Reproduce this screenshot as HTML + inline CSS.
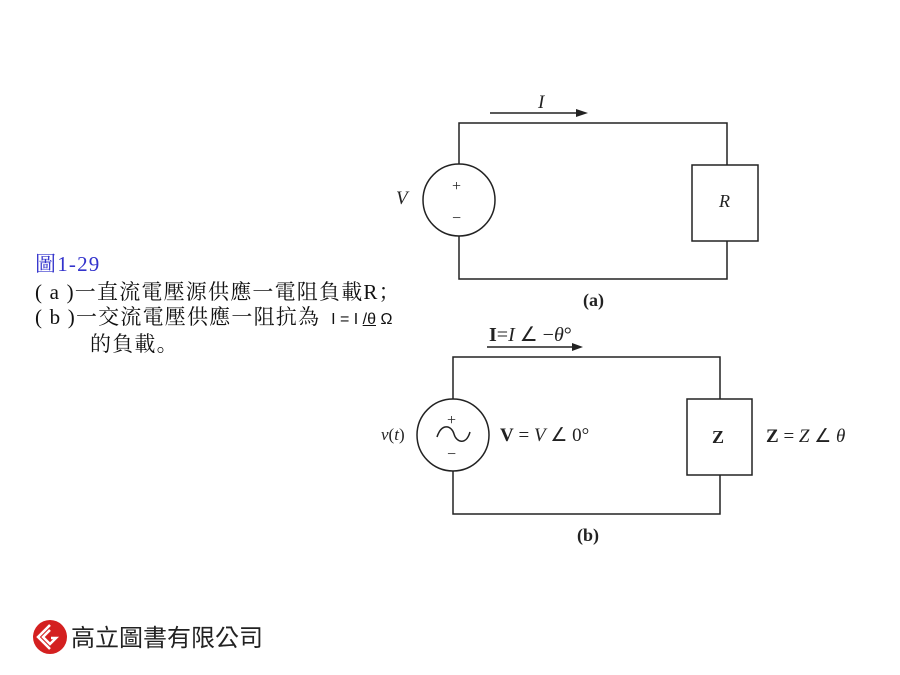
<!DOCTYPE html>
<html><head><meta charset="utf-8"><style>
body{margin:0;width:900px;height:675px;background:#fff;overflow:hidden;position:relative}
.t{position:absolute;font-family:"Liberation Serif","Noto Serif CJK SC","Noto Sans CJK TC",serif;font-size:21px;color:#111;white-space:nowrap;line-height:24px;letter-spacing:1.2px}
</style></head><body>
<div class="t" style="left:35px;top:252px;color:#3333cc">圖1-29</div>
<div class="t" style="left:35px;top:280px">( a )一直流電壓源供應一電阻負載R；</div>
<div class="t" style="left:35px;top:305px">( b )一交流電壓供應一阻抗為 <span style="font-family:'Liberation Sans',sans-serif;font-size:16px;letter-spacing:0">&nbsp;I = I <u>/θ</u> Ω</span></div>
<div class="t" style="left:90px;top:332px">的負載。</div>
<svg width="900" height="675" style="position:absolute;left:0;top:0" font-family="Liberation Serif, serif">
<g stroke="#222" stroke-width="1.5" fill="none">
<path d="M459 164 V123 H727 V165 M727 241 V279 H459 V236"/>
<circle cx="459" cy="200" r="36"/>
<rect x="692" y="165" width="66" height="76"/>
<path d="M490 113 H580"/>
<path d="M453 399 V357 H720 V399 M720 475 V514 H453 V471"/>
<circle cx="453" cy="435" r="36"/>
<rect x="687" y="399" width="65" height="76"/>
<path d="M487 347 H575"/>
<path d="M437 437 C442 422 452 426 454 434 C456 442 466 446 470 432"/>
</g>
<path d="M588 113 L576 109 L576 117Z" fill="#222"/>
<path d="M583 347 L572 343 L572 351Z" fill="#222"/>
<g fill="#222">
<text x="538" y="108" font-style="italic" font-size="19">I</text>
<text x="452" y="191" font-size="16">+</text>
<text x="452" y="223" font-size="16">−</text>
<text x="396" y="204" font-style="italic" font-size="19">V</text>
<text x="719" y="207" font-style="italic" font-size="18">R</text>
<text x="583" y="306" font-weight="bold" font-size="18">(a)</text>
<text x="489" y="341" font-size="20"><tspan font-weight="bold">I</tspan>=<tspan font-style="italic">I</tspan> ∠ −<tspan font-style="italic">θ</tspan>°</text>
<text x="447" y="425" font-size="16">+</text>
<text x="447" y="459" font-size="16">−</text>
<text x="381" y="440" font-size="17"><tspan font-style="italic">v</tspan>(<tspan font-style="italic">t</tspan>)</text>
<text x="500" y="441" font-size="19"><tspan font-weight="bold">V</tspan> = <tspan font-style="italic">V</tspan> ∠ 0°</text>
<text x="712" y="443" font-weight="bold" font-size="18">Z</text>
<text x="766" y="442" font-size="19"><tspan font-weight="bold">Z</tspan> = <tspan font-style="italic">Z</tspan> ∠ <tspan font-style="italic">θ</tspan></text>
<text x="577" y="541" font-weight="bold" font-size="18">(b)</text>
</g>
<circle cx="50" cy="637" r="17" fill="#d42020"/>
<path d="M50 625 L38 637 L50 649 M50 630 L43 637 L50 644 L56 638 L51 638" stroke="#fff" stroke-width="2.5" fill="none"/>
<text x="71" y="646" font-family="Liberation Sans, Noto Sans CJK TC, sans-serif" font-size="24" fill="#222">高立圖書有限公司</text>
</svg>
</body></html>
